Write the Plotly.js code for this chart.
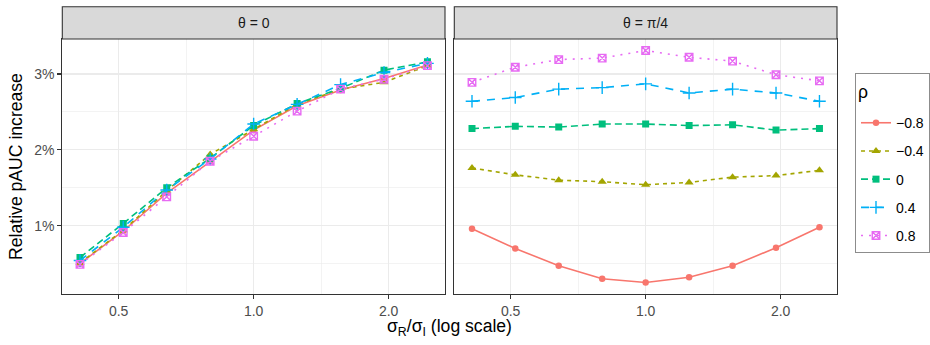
<!DOCTYPE html>
<html>
<head>
<meta charset="utf-8">
<script src="https://cdn.plot.ly/plotly-3.0.1.min.js"></script>
<style>html,body{margin:0;padding:0;background:#fff;}#chart{width:930px;height:345px;}</style>
</head>
<body>
<div id="chart"></div>
<script>
// sigma_R / sigma_I ratios (log scale x)
const ratios = [0.41, 0.512, 0.64, 0.8, 1.0, 1.25, 1.5625, 1.953, 2.441];
const rhoLabels = ["\u22120.8", "\u22120.4", "0", "0.4", "0.8"];
const panelTitles = ["\u03b8 = 0", "\u03b8 = \u03c0/4"];

// Relative pAUC increase (%), theta = 0
const theta0_m08 = [0.50, 0.93, 1.43, 1.85, 2.26, 2.58, 2.79, 2.94, 3.12];
const theta0_m04 = [0.51, 0.94, 1.46, 1.94, 2.27, 2.60, 2.80, 2.89, 3.11];
const theta0_0   = [0.58, 1.03, 1.50, 1.89, 2.32, 2.61, 2.81, 3.05, 3.16];
const theta0_04  = [0.54, 0.98, 1.47, 1.88, 2.34, 2.60, 2.86, 3.02, 3.14];
const theta0_08  = [0.49, 0.91, 1.38, 1.85, 2.18, 2.51, 2.80, 2.93, 3.11];

// Relative pAUC increase (%), theta = pi/4
const thetaPi4_m08 = [0.96, 0.70, 0.47, 0.30, 0.25, 0.32, 0.47, 0.71, 0.98];
const thetaPi4_m04 = [1.76, 1.67, 1.60, 1.58, 1.54, 1.57, 1.64, 1.66, 1.73];
const thetaPi4_0   = [2.28, 2.31, 2.30, 2.34, 2.34, 2.32, 2.33, 2.26, 2.28];
const thetaPi4_04  = [2.64, 2.69, 2.80, 2.82, 2.87, 2.75, 2.80, 2.75, 2.64];
const thetaPi4_08  = [2.89, 3.09, 3.19, 3.21, 3.31, 3.22, 3.17, 2.99, 2.91];

const xTickVals = [0.5, 1, 2];
const xTickText = ["0.5", "1.0", "2.0"];
const yTickVals = [1, 2, 3];
const yTickText = ["1%", "2%", "3%"];

const colors = ["#F8766D", "#A3A500", "#00BF7D", "#00B0F6", "#E76BF3"];
const dashes = ["solid", "4px,4px", "7px,4px", "8px,7px", "2px,6px"];
const symbols = ["circle", "triangle-up", "square", "cross-thin-open", "square-x-open"];
const msizes = [6.5, 8, 7, 9, 7.5];

const panel0 = [theta0_m08, theta0_m04, theta0_0, theta0_04, theta0_08];
const panel1 = [thetaPi4_m08, thetaPi4_m04, thetaPi4_0, thetaPi4_04, thetaPi4_08];

const traces = [];
[panel0, panel1].forEach((panel, p) => {
  panel.forEach((ys, i) => {
    traces.push({
      x: ratios, y: ys, type: "scatter", mode: "lines+markers",
      xaxis: p === 0 ? "x" : "x2", yaxis: p === 0 ? "y" : "y2",
      name: rhoLabels[i], legendgroup: "g" + i, showlegend: p === 1,
      line: {color: colors[i], width: 1.6, dash: dashes[i]},
      marker: {color: colors[i], symbol: symbols[i], size: msizes[i],
               line: {color: colors[i], width: (i >= 3 ? 1.4 : 0)}}
    });
  });
});

const fontFam = "Liberation Sans, Arial, sans-serif";
const W = 930, H = 345;
const px = v => v / W, py = v => 1 - v / H;
const xr = 0.42668;
const panelX = [[62.3, 445], [454.3, 837]];
const yDom = [py(294), py(39)];

function xAxis(i) {
  return {
    domain: [px(panelX[i][0]), px(panelX[i][1])], anchor: i === 0 ? "y" : "y2",
    type: "log", range: [-xr, xr], tickmode: "array", tickvals: xTickVals, ticktext: xTickText,
    showgrid: true, gridcolor: "#EBEBEB", gridwidth: 1.1, zeroline: false,
    minor: {tickmode: "array", tickvals: [0.7071, 1.4142], showgrid: true, gridcolor: "#EBEBEB", gridwidth: 0.6, ticks: ""},
    ticks: "outside", ticklen: 4, tickwidth: 1.1, tickcolor: "#333333",
    showline: true, mirror: true, linecolor: "#333333", linewidth: 1.1,
    tickfont: {family: fontFam, size: 14, color: "#4D4D4D"}, fixedrange: true
  };
}
function yAxis(i) {
  const a = {
    domain: yDom, anchor: i === 0 ? "x" : "x2", range: [0.0989, 3.4616],
    tickmode: "array", tickvals: yTickVals, ticktext: yTickText,
    showgrid: true, gridcolor: "#EBEBEB", gridwidth: 1.1, zeroline: false,
    minor: {tickmode: "array", tickvals: [0.5, 1.5, 2.5], showgrid: true, gridcolor: "#EBEBEB", gridwidth: 0.6, ticks: ""},
    ticks: i === 0 ? "outside" : "", ticklen: 4, tickwidth: 1.1, tickcolor: "#333333",
    showline: true, mirror: true, linecolor: "#333333", linewidth: 1.1,
    showticklabels: i === 0,
    tickfont: {family: fontFam, size: 14, color: "#4D4D4D"}, fixedrange: true
  };
  if (i === 0) a.title = {text: "Relative pAUC increase", font: {family: fontFam, size: 17.6, color: "#000"}, standoff: 7};
  else a.matches = "y";
  return a;
}

const shapes = panelX.map(([a, b]) => ({
  type: "rect", xref: "paper", yref: "paper", x0: px(a), x1: px(b), y0: py(39), y1: py(6.7),
  fillcolor: "#D9D9D9", line: {color: "#333333", width: 1.1}, layer: "above"
}));
const annotations = panelX.map(([a, b], i) => ({
  xref: "paper", yref: "paper", x: px((a + b) / 2), y: py(23), xanchor: "center", yanchor: "middle",
  text: panelTitles[i], showarrow: false, font: {family: fontFam, size: 14, color: "#1A1A1A"}
}));
annotations.push({
  xref: "paper", yref: "paper", x: px(449.6), y: py(327), xanchor: "center", yanchor: "middle",
  text: "\u03c3<sub>R</sub>/\u03c3<sub>I</sub> (log scale)", showarrow: false,
  font: {family: fontFam, size: 17.6, color: "#000"}
});

const layout = {
  width: W, height: H, margin: {l: 0, r: 0, t: 0, b: 0, autoexpand: false},
  paper_bgcolor: "#fff", plot_bgcolor: "#fff", font: {family: fontFam},
  xaxis: xAxis(0), xaxis2: xAxis(1), yaxis: yAxis(0), yaxis2: yAxis(1),
  shapes: shapes, annotations: annotations,
  showlegend: true,
  legend: {x: px(855), xanchor: "left", y: py(73), yanchor: "top",
           bgcolor: "#fff", bordercolor: "#8C8C8C", borderwidth: 1,
           font: {family: fontFam, size: 14, color: "#000"}, tracegroupgap: 7,
           title: {text: "<span style=\"font-size:17.6px;baseline-shift:9px\">\u03c1</span>", font: {family: fontFam, size: 25.5, color: "#000"}}}
};

Plotly.newPlot("chart", traces, layout, {displayModeBar: false, staticPlot: true});
</script>
</body>
</html>
